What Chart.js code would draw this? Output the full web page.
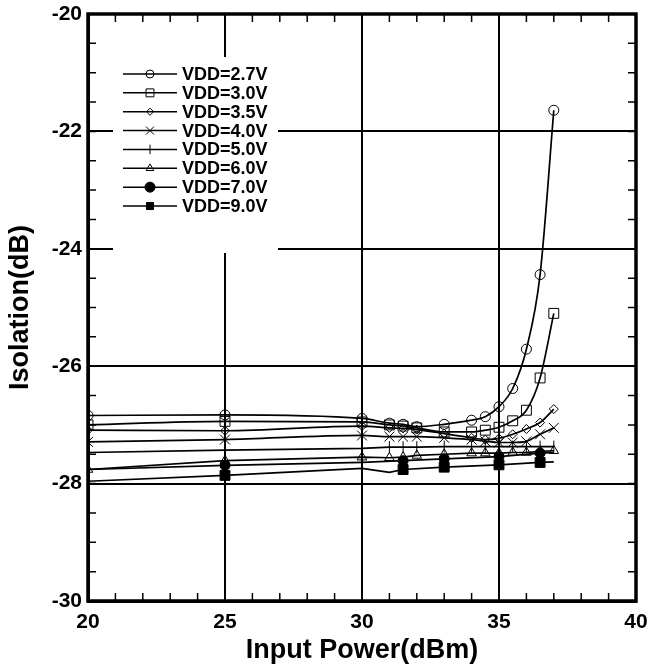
<!DOCTYPE html>
<html>
<head>
<meta charset="utf-8">
<script src="https://cdn.jsdelivr.net/npm/chart.js@4/dist/chart.umd.min.js"></script>
<style>
  html, body { margin: 0; padding: 0; background: #fff; }
  #caixa { width: 650px; height: 669px; }
</style>
</head>
<body>
<div id="caixa"><canvas id="grafico_isolacao" width="650" height="669"></canvas></div>
<script>
// valores
const power = [20, 25, 30, 31, 31.5, 32, 33, 34, 34.5, 35, 35.5, 36, 36.5, 37]
const vdd27 = [-26.84, -26.83, -26.89, -26.97, -26.99, -27.03, -26.99, -26.92, -26.86, -26.69, -26.38, -25.71, -24.44, -21.64]
const vdd30 = [-27.00, -26.94, -26.95, -27.00, -27.02, -27.05, -27.12, -27.12, -27.09, -27.04, -26.93, -26.75, -26.20, -25.10]
const vdd35 = [-27.09, -27.10, -27.02, -27.05, -27.06, -27.08, -27.15, -27.22, -27.25, -27.23, -27.16, -27.07, -26.96, -26.73]
const vdd40 = [-27.29, -27.25, -27.18, -27.20, -27.20, -27.20, -27.22, -27.25, -27.28, -27.30, -27.30, -27.28, -27.16, -27.05]
const vdd50 = [-27.47, -27.43, -27.40, -27.38, -27.38, -27.38, -27.37, -27.37, -27.37, -27.37, -27.37, -27.37, -27.37, -27.37]
const vdd60 = [-27.76, -27.61, -27.55, -27.56, -27.55, -27.52, -27.50, -27.48, -27.48, -27.48, -27.47, -27.47, -27.45, -27.44]

const power70 = [20, 25, 30, 31.5, 33, 35, 36.5, 37]
const vdd70 = [-27.76, -27.69, -27.64, -27.61, -27.58, -27.54, -27.48, -27.47]
const power90 = [20, 25, 30, 31, 31.5, 33, 35, 36.5, 37]
const vdd90 = [-27.96, -27.86, -27.74, -27.81, -27.76, -27.72, -27.68, -27.64, -27.63]
// pontos com marcador nas curvas de 7V e 9V
const markedPower = [25, 31.5, 33, 35, 36.5]

const labels = ['VDD=2.7V', 'VDD=3.0V', 'VDD=3.5V', 'VDD=4.0V', 'VDD=5.0V', 'VDD=6.0V', 'VDD=7.0V', 'VDD=9.0V']
const xTicks = [20, 25, 30, 35, 40]
const yTicks = [-30, -28, -26, -24, -22, -20]

const FONTE = "'Liberation Sans', Arial, sans-serif"
Chart.defaults.font.family = FONTE
Chart.defaults.font.weight = 'bold'
Chart.defaults.color = '#000'

function pares(xs, ys) {
  return xs.map((x, i) => ({ x: x, y: ys[i] }))
}

function serie(i, xs, ys, estilo, extra) {
  return Object.assign({
    label: labels[i],
    data: pares(xs, ys),
    borderColor: '#000',
    borderWidth: 1.7,
    pointBorderColor: '#000',
    pointBackgroundColor: 'rgba(0,0,0,0)',
    pointBorderWidth: 1,
    pointStyle: estilo,
    pointRadius: 5,
    pointHoverRadius: 5,
    fill: false,
    tension: 0
  }, extra || {})
}

const soMarcados = r => (ctx => markedPower.includes(ctx.raw && ctx.raw.x) ? r : 0)

const datasets = [
  serie(0, power, vdd27, 'circle', { cubicInterpolationMode: 'monotone' }),
  serie(1, power, vdd30, 'rect', { pointRadius: 7, cubicInterpolationMode: 'monotone' }),
  serie(2, power, vdd35, 'rectRot', { pointRadius: 4.5, cubicInterpolationMode: 'monotone' }),
  serie(3, power, vdd40, 'crossRot', { pointRadius: 7, cubicInterpolationMode: 'monotone' }),
  serie(4, power, vdd50, 'line', { pointRadius: 6, pointRotation: 90 }),
  serie(5, power, vdd60, 'triangle', { pointRadius: 5.5 }),
  serie(6, power70, vdd70, 'circle', { pointBackgroundColor: '#000', pointRadius: soMarcados(5) }),
  serie(7, power90, vdd90, 'rect', { pointBackgroundColor: '#000', pointRadius: soMarcados(7) })
]

// legenda dentro da area do grafico, com fundo branco
const legendaInterna = {
  id: 'legendaInterna',
  beforeDatasetsDraw(chart) {
    const ctx = chart.ctx
    ctx.save()
    ctx.fillStyle = '#fff'
    ctx.fillRect(113, 57, 165, 196)
    chart.data.datasets.forEach((ds, i) => {
      const y = 74 + i * 18.86
      ctx.strokeStyle = '#000'
      ctx.lineWidth = 1.5
      ctx.beginPath()
      ctx.moveTo(123, y)
      ctx.lineTo(177, y)
      ctx.stroke()
      ctx.lineWidth = 1
      ctx.fillStyle = ds.pointBackgroundColor
      const r = typeof ds.pointRadius === 'number' ? ds.pointRadius * 0.8 : 5
      if (Chart.helpers && Chart.helpers.drawPoint) {
        Chart.helpers.drawPoint(ctx, { pointStyle: ds.pointStyle, rotation: ds.pointRotation || 0, radius: r, borderWidth: 1 }, 150, y)
      }
      ctx.fillStyle = '#000'
      ctx.font = 'bold 18px ' + FONTE
      ctx.textBaseline = 'middle'
      ctx.textAlign = 'left'
      ctx.fillText(ds.label, 182, y + 1)
    })
    ctx.restore()
  }
}

// moldura e tracinhos secundarios
const moldura = {
  id: 'moldura',
  afterDraw(chart) {
    const { ctx, chartArea: a, scales } = chart
    ctx.save()
    ctx.strokeStyle = '#000'
    ctx.lineWidth = 1.5
    ctx.beginPath()
    for (let v = 21; v < 40; v++) {
      const x = scales.x.getPixelForValue(v)
      ctx.moveTo(x, a.bottom); ctx.lineTo(x, a.bottom - 8)
      ctx.moveTo(x, a.top); ctx.lineTo(x, a.top + 8)
    }
    for (let v = -29.5; v < -20; v += 0.5) {
      const y = scales.y.getPixelForValue(v)
      ctx.moveTo(a.left, y); ctx.lineTo(a.left + 8, y)
      ctx.moveTo(a.right, y); ctx.lineTo(a.right - 8, y)
    }
    ctx.stroke()
    ctx.lineWidth = 3.5
    ctx.strokeRect(a.left, a.top, a.right - a.left, a.bottom - a.top)
    ctx.restore()
  }
}

const ctx = document.getElementById('grafico_isolacao')

const config = {
  type: 'line',
  data: { datasets },
  options: {
    responsive: false,
    animation: false,
    devicePixelRatio: 1,
    layout: { padding: { top: 14, right: 14, left: 0, bottom: 0 } },
    plugins: {
      legend: { display: false },
      tooltip: { enabled: false }
    },
    scales: {
      x: {
        type: 'linear',
        min: 20,
        max: 40,
        afterBuildTicks: s => { s.ticks = xTicks.map(v => ({ value: v })) },
        afterFit: s => { s.height = 68; s.paddingLeft = 0; s.paddingRight = 0 },
        ticks: { font: { size: 21, weight: 'bold' }, padding: 9, color: '#000', maxRotation: 0 },
        grid: { color: '#000', lineWidth: 2, drawTicks: false },
        border: { color: '#000', width: 3 },
        title: {
          display: true,
          text: 'Input Power(dBm)',
          font: { size: 27, weight: 'bold', lineHeight: 1.2 },
          color: '#000',
          padding: { top: 0, bottom: 2 }
        }
      },
      y: {
        min: -30,
        max: -20,
        afterBuildTicks: s => { s.ticks = yTicks.map(v => ({ value: v })) },
        afterFit: s => { s.width = 88; s.paddingTop = 0; s.paddingBottom = 0 },
        ticks: { font: { size: 21, weight: 'bold' }, padding: 6, color: '#000' },
        grid: { color: '#000', lineWidth: 2, drawTicks: false },
        border: { color: '#000', width: 3 },
        title: {
          display: true,
          text: 'Isolation(dB)',
          font: { size: 27, weight: 'bold', lineHeight: 1.2 },
          color: '#000',
          padding: { top: 4, bottom: 0 }
        }
      }
    }
  },
  plugins: [legendaInterna, moldura]
}

const grafico = new Chart(ctx, config)
</script>
</body>
</html>
